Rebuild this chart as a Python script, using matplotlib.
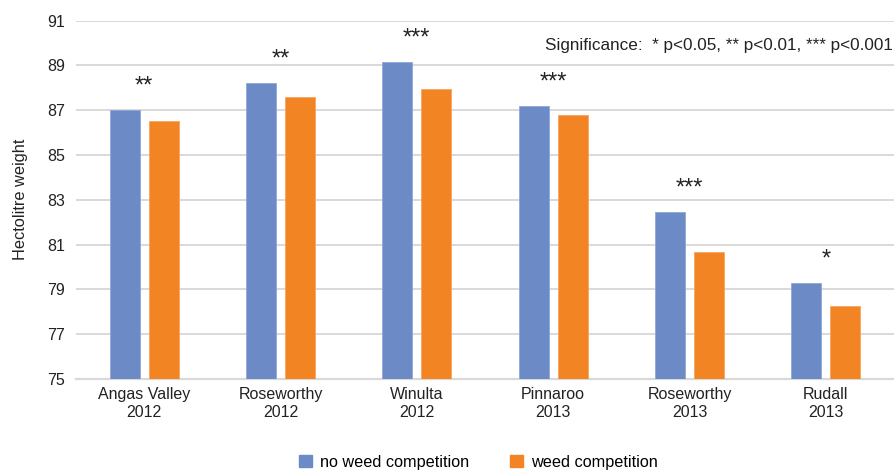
import matplotlib
matplotlib.use("Agg")
import matplotlib.pyplot as plt
from matplotlib.patches import Patch

plt.rcParams['font.family'] = ['Liberation Sans', 'DejaVu Sans']

sites = ["Angas Valley\n2012", "Roseworthy\n2012", "Winulta\n2012",
         "Pinnaroo\n2013", "Roseworthy\n2013", "Rudall\n2013"]
no_weed = [87.0, 88.2, 89.15, 87.2, 82.45, 79.27]
weed = [86.5, 87.6, 87.97, 86.8, 80.66, 78.27]
stars = ["**", "**", "***", "***", "***", "*"]
yticks = [75, 77, 79, 81, 83, 85, 87, 89, 91]

blue = "#6b8ac6"
orange = "#f28424"
text_col = "#222222"

fig = plt.figure(figsize=(8.94, 4.70), dpi=100)
ax = fig.add_axes([0.085, 0.194, 0.915, 0.762])

x = list(range(len(sites)))
w = 0.22
off = 0.143
ax.bar([i - off for i in x], no_weed, width=w, color=blue, zorder=3,
       edgecolor="#8fa8d8", linewidth=0.6)
ax.bar([i + off for i in x], weed, width=w, color=orange, zorder=3,
       edgecolor="#f6a560", linewidth=0.6)

for i, (v, s) in enumerate(zip(no_weed, stars)):
    ax.text(i, v + 1.05, s, ha="center", va="center", fontsize=17,
            color=text_col)

ax.set_xlim(-0.5, len(sites) - 0.5)
ax.set_ylim(75, 91)
ax.set_yticks(yticks)
ax.set_xticks(x)
ax.set_xticklabels(sites, fontsize=11.5, color=text_col, linespacing=1.2)
ax.tick_params(axis="y", labelsize=11.5, length=0, pad=8, labelcolor=text_col)
ax.tick_params(axis="x", length=0, pad=6)
ax.grid(axis="y", color="#d9d9d9", linewidth=1.4, zorder=0)
for side in ("top", "right", "left"):
    ax.spines[side].set_visible(False)
ax.spines["bottom"].set_color("#d9d9d9")
ax.spines["bottom"].set_linewidth(1.6)

ax.set_ylabel("Hectolitre weight", fontsize=11.8, color=text_col, labelpad=14)

fig.text(0.999, 0.904, "Significance:  * p<0.05, ** p<0.01, *** p<0.001",
         ha="right", va="center", fontsize=12.3, color=text_col)

handles = [Patch(color=blue, label="no weed competition"),
           Patch(color=orange, label="weed competition")]
fig.legend(handles=handles, loc="center", bbox_to_anchor=(0.535, 0.017),
           ncol=2, frameon=False, fontsize=11.7, handlelength=0.8,
           handleheight=0.8, columnspacing=2.5, handletextpad=0.5)

fig.savefig("out.png", dpi=100)
